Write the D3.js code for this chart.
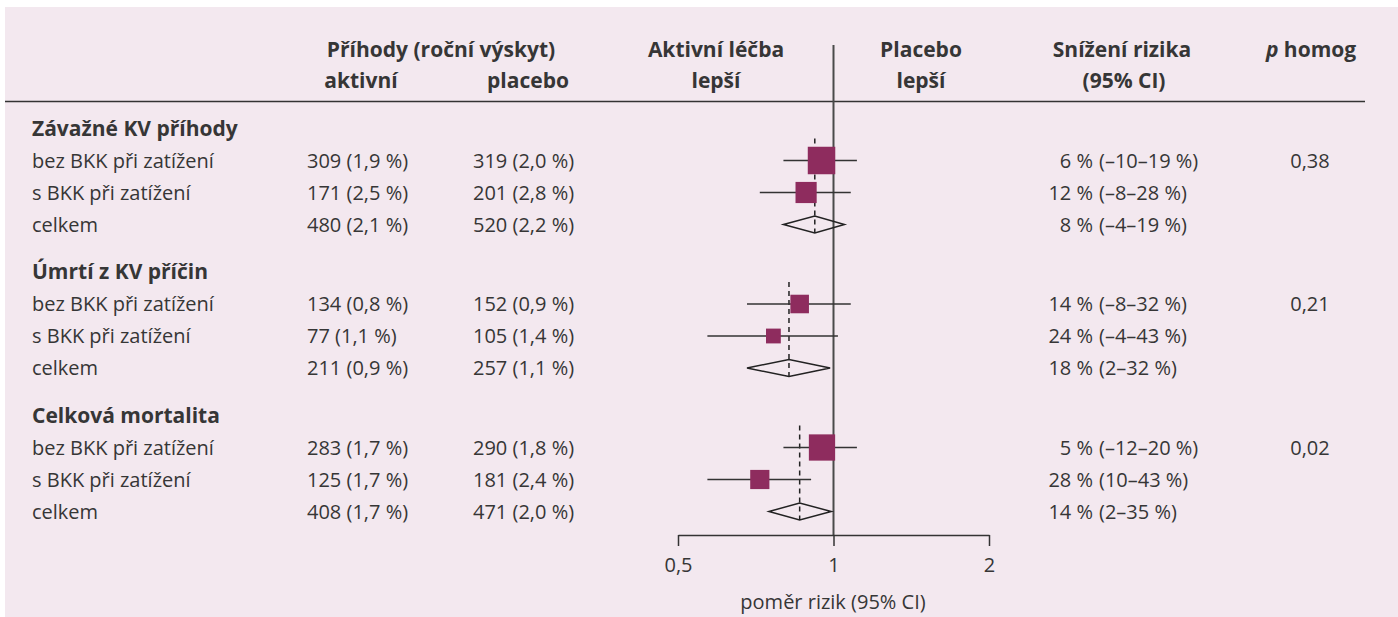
<!DOCTYPE html>
<html lang="cs">
<head>
<meta charset="utf-8">
<title>Forest plot</title>
<script src="https://d3js.org/d3.v7.min.js"></script>
<style>
  body { margin: 0; background: #fff; }
  text { font-family: "Open Sans", sans-serif; fill: #363636; }
</style>
</head>
<body>
<svg id="chart" width="1398" height="617"></svg>
<script>
// data
var groups = ["Závažné KV příhody", "Úmrtí z KV příčin", "Celková mortalita"];
var subgroups = ["bez BKK při zatížení", "s BKK při zatížení", "celkem"];

var activeEvents = [[309, 171, 480], [134, 77, 211], [283, 125, 408]];
var activeRate = [["1,9", "2,5", "2,1"], ["0,8", "1,1", "0,9"], ["1,7", "1,7", "1,7"]];
var placeboEvents = [[319, 201, 520], [152, 105, 257], [290, 181, 471]];
var placeboRate = [["2,0", "2,8", "2,2"], ["0,9", "1,4", "1,1"], ["1,8", "2,4", "2,0"]];

// hazard ratio with 95% CI (last row of each group = pooled, drawn as diamond)
var hr = [[0.948, 0.885, 0.92], [0.86, 0.765, 0.82], [0.95, 0.72, 0.86]];
var hrLow = [[0.80, 0.72, 0.80], [0.68, 0.57, 0.68], [0.80, 0.57, 0.75]];
var hrHigh = [[1.11, 1.08, 1.05], [1.08, 1.02, 0.985], [1.11, 0.905, 0.99]];

var reduction = [[6, 12, 8], [14, 24, 18], [5, 28, 14]];
var reductionLow = [[-10, -8, -4], [-8, -4, 2], [-12, 10, 2]];
var reductionHigh = [[19, 28, 19], [32, 43, 32], [20, 43, 35]];
var pHomog = ["0,38", "0,21", "0,02"];

var axisTicks = [0.5, 1, 2];

var fs = 20;      // body text size
var fsHead = 21;  // bold header size

var svg = d3.select("#chart");

svg.append("rect")
    .attr("x", 5).attr("y", 7)
    .attr("width", 1393).attr("height", 610)
    .attr("fill", "#f3e8ef");

var x = d3.scaleLog().domain([0.5, 2]).range([678, 989]);
var side = d3.scaleSqrt().domain([0, 628]).range([0, 27.5]);

function rowY(g, r) { return 128.5 + g * 143.5 + (r + 1) * 32; }
function headY(g) { return 128.5 + g * 143.5; }
function pct(v) { return v < 0 ? "\u2013" + (-v) : "" + v; }

// header
var head = svg.append("g").attr("font-weight", "bold").attr("font-size", fsHead);
function hText(tx, ty, s) {
    return head.append("text").attr("x", tx).attr("y", ty)
        .attr("text-anchor", "middle").text(s);
}
hText(441, 57, "Příhody (roční výskyt)");
hText(361, 88, "aktivní");
hText(528, 88, "placebo");
hText(716, 57, "Aktivní léčba");
hText(716, 88, "lepší");
hText(921, 57, "Placebo");
hText(921, 88, "lepší");
hText(1122, 57, "Snížení rizika");
hText(1124, 88, "(95% CI)");
var ph = hText(1311, 57, "");
ph.append("tspan").attr("font-style", "italic").text("p");
ph.append("tspan").text(" homog");

svg.append("line")
    .attr("x1", 5).attr("x2", 1365)
    .attr("y1", 101.5).attr("y2", 101.5)
    .attr("stroke", "#333").attr("stroke-width", 1.5);

// reference line at 1
svg.append("line")
    .attr("x1", x(1)).attr("x2", x(1))
    .attr("y1", 45).attr("y2", 535)
    .attr("stroke", "#4a4a4a").attr("stroke-width", 2);

var body = svg.append("g").attr("font-size", fs);

groups.forEach(function (gName, g) {
    body.append("text")
        .attr("x", 32).attr("y", headY(g)).attr("dy", "0.35em")
        .attr("font-weight", "bold").attr("font-size", fsHead).text(gName);

    // dashed line at pooled estimate
    svg.append("line")
        .attr("x1", x(hr[g][2])).attr("x2", x(hr[g][2]))
        .attr("y1", rowY(g, 0) - 22).attr("y2", rowY(g, 2) + 8.5)
        .attr("stroke", "#222").attr("stroke-width", 1.5)
        .attr("stroke-dasharray", "5,4");

    subgroups.forEach(function (sName, r) {
        var y = rowY(g, r);
        body.append("text").attr("x", 32).attr("y", y).attr("dy", "0.35em").text(sName);
        body.append("text").attr("x", 307).attr("y", y).attr("dy", "0.35em")
            .text(activeEvents[g][r] + " (" + activeRate[g][r] + " %)");
        body.append("text").attr("x", 473).attr("y", y).attr("dy", "0.35em")
            .text(placeboEvents[g][r] + " (" + placeboRate[g][r] + " %)");
        body.append("text").attr("x", 1093).attr("y", y).attr("dy", "0.35em")
            .attr("text-anchor", "end").text(reduction[g][r] + " %");
        body.append("text").attr("x", 1099).attr("y", y).attr("dy", "0.35em")
            .text("(" + pct(reductionLow[g][r]) + "\u2013" + reductionHigh[g][r] + " %)");

        if (r < 2) {
            svg.append("line")
                .attr("x1", x(hrLow[g][r])).attr("x2", x(hrHigh[g][r]))
                .attr("y1", y).attr("y2", y)
                .attr("stroke", "#333").attr("stroke-width", 1.5);
            var s = side(activeEvents[g][r] + placeboEvents[g][r]);
            svg.append("rect")
                .attr("x", x(hr[g][r]) - s / 2).attr("y", y - s / 2)
                .attr("width", s).attr("height", s)
                .attr("fill", "#8e2c5e");
        } else {
            var pts = [[x(hrLow[g][r]), y], [x(hr[g][r]), y - 8.5],
                       [x(hrHigh[g][r]), y], [x(hr[g][r]), y + 8.5]];
            svg.append("path")
                .attr("d", d3.line()(pts) + "Z")
                .attr("fill", "none").attr("stroke", "#222").attr("stroke-width", 1.5);
        }
    });

    body.append("text").attr("x", 1310).attr("y", rowY(g, 0)).attr("dy", "0.35em")
        .attr("text-anchor", "middle").text(pHomog[g]);
});

// axis
var axis = svg.append("g")
    .attr("transform", "translate(0,535)")
    .call(d3.axisBottom(x).tickValues(axisTicks)
        .tickFormat(function (d) { return String(d).replace(".", ","); })
        .tickSize(11).tickSizeOuter(0).tickPadding(12));
axis.select(".domain").attr("stroke", "#333").attr("stroke-width", 1.5);
axis.selectAll(".tick line").attr("stroke", "#333").attr("stroke-width", 1.5);
axis.selectAll(".tick text")
    .attr("font-family", "Open Sans, sans-serif")
    .attr("font-size", fs).attr("fill", "#444");

svg.append("text")
    .attr("x", 833).attr("y", 609)
    .attr("text-anchor", "middle").attr("font-size", fs)
    .text("poměr rizik (95% CI)");
</script>
</body>
</html>
